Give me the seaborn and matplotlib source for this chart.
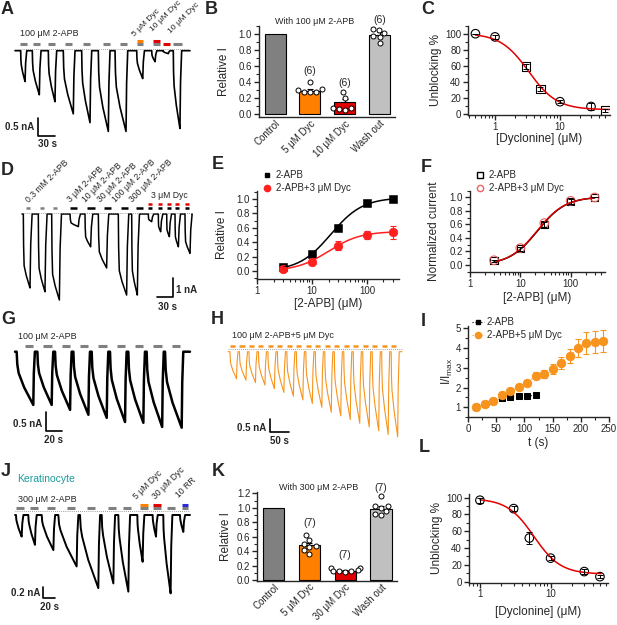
import numpy as np
import pandas as pd
import matplotlib
matplotlib.use("Agg")
from matplotlib import pyplot as plt
from matplotlib import ticker
from matplotlib.lines import Line2D
import seaborn as sns

sns.set_style("ticks")
plt.rcParams["font.family"] = ["Liberation Sans", "DejaVu Sans"]
plt.rcParams["mathtext.default"] = "regular"
plt.rcParams["axes.linewidth"] = 1.0

W, H = 617, 625
GRAY, LGRAY = "#808080", "#c0c0c0"
ORANGE, BORANGE, RED, BLUE, TEAL = "#f7941d", "#ff8000", "#e30000", "#2b2bd6", "#1a9a9a"

# ---------------- data ----------------
# A: 100 uM 2-APB trace (s, nA)
a_onsets = [18.5, 38.6, 66.3, 92.2, 124.0, 152.8, 181.7, 219.2, 245.2, 265.2, 282.5]
a_durs = [7.5, 12.1, 11.5, 17.3, 14.4, 17.3, 19.0, 10.4, 5.8, 8.7, 11.5]
a_amps = [0.84, 1.2, 1.39, 1.72, 1.96, 2.2, 2.2, 0.76, 0.3, 0.08, 2.12]
a_bar_starts = [17.3, 40.3, 66.3, 95.2, 126.8, 161.4, 190.3, 219.2, 248.0, 265.2, 282.5]
a_bar_lens = [11.5, 11.5, 11.5, 11.5, 11.5, 11.5, 11.5, 11.5, 11.5, 11.5, 14.4]

# B: with 100 uM 2-APB
b_cats = ["Control", "5 μM Dyc", "10 μM Dyc", "Wash out"]
b_means = [1.0, 0.29, 0.15, 0.99]
b_sem = [0.0, 0.02, 0.04, 0.03]
b_dots_5 = [0.40, 0.31, 0.28, 0.27, 0.30, 0.27]
b_dots_10 = [0.27, 0.20, 0.08, 0.06, 0.07, 0.05]
b_dots_wash = [1.06, 1.05, 1.01, 0.97, 0.96, 0.88]

# C: dose response of dyclonine
c_conc = [0.5, 1, 3, 5, 10, 30, 50]
c_unblock = [100, 96, 59, 31, 15, 9, 4]
c_err = [0, 3, 3, 2, 2, 4, 2]
c_marker = ["o", "o", "s", "s", "o", "o", "s"]
c_fit = dict(bottom=5, top=100.5, k=3.3, n=2.0)

# D: 2-APB concentrations trace
d_onsets = [25.0, 53.1, 78.2, 112.6, 140.7, 165.7, 203.2, 228.3, 259.5, 278.3, 294.0, 309.6, 328.3]
d_durs = [12.5, 12.5, 14.4, 15.6, 10.6, 15.6, 15.6, 10.6, 6.3, 4.4, 5.0, 6.3, 9.4]
d_amps = [4.04, 4.25, 4.7, 0.69, 1.79, 2.95, 4.43, 4.43, 0.42, 0.97, 1.24, 1.79, 2.15]
d_gray_starts = [30.0, 56.3, 81.3]
d_black_starts = [112.6, 145.0, 176.4, 207.7, 236.4]
d_dyc_starts = [259.5, 278.3, 294.0, 309.6, 328.3]
d_labels = ["0.3 mM 2-APB", "3 μM 2-APB", "10 μM 2-APB", "30 μM 2-APB", "100 μM 2-APB", "300 μM 2-APB"]

# E / F: 2-APB dose response
e_conc = [3, 10, 30, 100, 300]
e_apb = [0.06, 0.24, 0.60, 0.95, 1.0]
e_dyc = [0.03, 0.13, 0.35, 0.50, 0.54]
e_dyc_err = [0.02, 0.02, 0.06, 0.06, 0.09]
f_apb = [0.06, 0.24, 0.60, 0.94, 1.0]
f_dyc = [0.07, 0.25, 0.62, 0.95, 1.0]
f_err = [0.02, 0.03, 0.04, 0.03, 0.0]

# G: repeated 2-APB trace
g_onsets = [8.3, 34.2, 56.3, 79.2, 102.1, 125.0, 147.9, 170.8, 193.8]
g_durs = [20.8, 17.9, 18.8, 18.8, 18.8, 18.8, 18.8, 19.4, 20.8]
g_amps = [1.4, 1.4, 1.53, 1.66, 1.74, 1.85, 1.87, 1.98, 2.0]
g_bar_starts = [18.8, 41.7, 64.6, 87.5, 110.4, 133.3, 156.2, 179.1, 202.0]

# H: 2-APB + 5 uM Dyc trace
h_onsets = [12.9, 37.4, 61.9, 86.4, 110.9, 135.4, 159.9, 184.4, 208.9,
            233.4, 257.9, 282.4, 306.9, 331.4, 355.9, 380.4, 404.9, 429.4]
h_amps = [1.1, 1.15, 1.25, 1.35, 1.5, 1.65, 1.8, 1.95, 2.1,
          2.25, 2.45, 2.6, 2.75, 2.9, 3.05, 3.2, 3.35, 3.45]

# I: sensitisation
i_t_apb = [15, 30, 45, 60, 75, 90, 105, 120]
i_apb = [1.0, 1.15, 1.3, 1.45, 1.53, 1.55, 1.58, 1.6]
i_t_dyc = [15, 30, 45, 60, 75, 90, 105, 120, 135, 150, 165, 180, 195, 210, 225, 240]
i_dyc = [1.0, 1.17, 1.33, 1.62, 1.85, 2.03, 2.23, 2.6, 2.7, 2.95, 3.25, 3.6, 4.0, 4.25, 4.3, 4.35]
i_dyc_err = [0.02, 0.04, 0.05, 0.07, 0.1, 0.12, 0.14, 0.18, 0.2, 0.25, 0.3, 0.35, 0.45, 0.55, 0.55, 0.55]

# J: keratinocyte trace
j_onsets = [10.3, 31.4, 54.4, 82.9, 120.1, 157.3, 185.8, 218.4, 244.7, 262.9, 291.6]
j_durs = [9.7, 11.4, 20.0, 31.4, 31.4, 20.0, 17.2, 9.1, 5.7, 12.6, 5.7]
j_amps = [0.37, 0.51, 0.6, 0.88, 1.25, 1.17, 1.31, 0.8, 0.37, 1.34, 0.29]
j_bar_starts = [10.3, 34.3, 62.9, 97.2, 131.5, 168.6, 194.3, 223.0, 245.8, 268.8, 294.5]

# K: with 300 uM 2-APB
k_cats = ["Control", "5 μM Dyc", "30 μM Dyc", "Wash out"]
k_means = [1.0, 0.48, 0.13, 0.99]
k_sem = [0.0, 0.03, 0.01, 0.03]
k_dots_5 = [0.62, 0.55, 0.50, 0.47, 0.46, 0.41, 0.36]
k_dots_30 = [0.17, 0.16, 0.14, 0.13, 0.12, 0.12, 0.11]
k_dots_wash = [1.17, 1.03, 1.02, 1.00, 0.95, 0.91, 0.90]

# L: keratinocyte dose response
l_conc = [1, 3, 5, 10, 30, 50]
l_unblock = [97, 87, 52, 28, 12, 6]
l_err = [3, 3, 7, 2, 3, 2]
l_fit = dict(bottom=9, top=99, k=5.8, n=2.3)

# ---------------- helpers ----------------
fig = plt.figure(figsize=(W / 100, H / 100), dpi=100)


def px_axes(box):
    x0, y0, x1, y1 = box
    return fig.add_axes([x0 / W, 1 - y1 / H, (x1 - x0) / W, (y1 - y0) / H])


def ftext(x, y, s, **kw):
    kw.setdefault("fontsize", 6.5)
    fig.text(x / W, 1 - y / H, s, **kw)


def hill_down(x, bottom, top, k, n):
    return bottom + (top - bottom) / (1 + (x / k) ** n)


def hill_up(x, top, k, n):
    return top / (1 + (k / x) ** n)


# pulse outline: fraction of duration / fraction of amplitude
SHAPE_T = [0.0, 0.04, 0.12, 0.45, 0.8, 1.0]
SHAPE_I = [0.0, 0.6, 1.0, 1.45, 1.8, 2.0]


def build_trace(onsets, durs, amps, t0, t1, f=0.45, rec=3.0):
    t, i = [t0], [0.0]
    for o, d, a in zip(onsets, durs, amps):
        for st, si in zip(SHAPE_T, SHAPE_I):
            t.append(o + st * d)
            frac = si * f if si <= 1 else f + (1 - f) * (si - 1)
            i.append(-a * frac)
        t += [o + d + 0.35 * rec, o + d + rec]
        i += [-0.4 * a, 0.0]
    t.append(t1)
    i.append(0.0)
    return t, i


def trace_panel(box, base, pps, ppn):
    ax = px_axes(box)
    x0, y0, x1, y1 = box
    ax.set_xlim(0, (x1 - x0) / pps)
    ax.set_ylim((base - y1) / ppn, (base - y0) / ppn)
    ax.axis("off")
    return ax, (lambda x: (x - x0) / pps), (lambda y: (base - y) / ppn)


def bars(ax, starts, lens, level, color, lw=2.2):
    for s, l in zip(starts, lens):
        ax.plot([s, s + l], [level, level], color=color, lw=lw, solid_capstyle="butt")


def dotted(ax, ta, tb, level):
    ax.plot([ta, tb], [level, level], color="gray", lw=0.6, ls=(0, (1, 1.5)))


def style(ax, box, ylab=None, ylab_x=None, xlab=None, xlab_y=None):
    sns.despine(ax=ax)
    ax.tick_params(which="major", direction="out", length=3.5, width=1, labelsize=7, pad=1.5)
    ax.tick_params(which="minor", direction="out", length=2, width=0.8)
    x0, y0, x1, y1 = box
    if ylab:
        ax.set_ylabel(ylab, fontsize=8.5)
        ax.yaxis.set_label_coords((ylab_x + 5 - x0) / (x1 - x0), 0.5)
    if xlab:
        ax.set_xlabel(xlab, fontsize=8.5)
        ax.xaxis.set_label_coords(0.5, (y1 - xlab_y + 5) / (y1 - y0))


def scale_bar(ax, tt, ti, x, y, T, I, right=False):
    t, i = tt(x), ti(y)
    if right:
        ax.plot([t - T, t, t], [i, i, i + I], color="black", lw=1.2)
    else:
        ax.plot([t, t, t + T], [i + I, i, i], color="black", lw=1.2)


def bar_panel(ax, cats, means, sem, dots, colors, ylim, yticks):
    sns.barplot(x=cats, y=means, hue=cats, palette=dict(zip(cats, colors)), saturation=1,
                edgecolor="black", linewidth=0.8, width=0.6, legend=False, ax=ax)
    ax.errorbar(range(1, 4), means[1:], yerr=[np.zeros(3), sem[1:]], fmt="none",
                ecolor="black", elinewidth=0.8, capsize=2.5, capthick=0.8)
    df = pd.DataFrame({"g": sum([[c] * len(d) for c, d in zip(cats[1:], dots)], []),
                       "v": sum(dots, [])})
    sns.swarmplot(data=df, x="g", y="v", order=cats, color="white", edgecolor="black",
                  linewidth=0.7, size=3.6, ax=ax)
    ax.set_xlim(-0.46, 3.44)
    ax.set_ylim(*ylim)
    ax.set_yticks(yticks)
    ax.yaxis.set_major_formatter(ticker.FormatStrFormatter("%.1f"))
    ax.yaxis.set_minor_locator(ticker.MultipleLocator(0.1))
    ax.set_xticks(range(4))
    ax.set_xticklabels(cats, rotation=45, ha="right", rotation_mode="anchor", fontsize=6.5)
    ax.set_xlabel("")


def log_fmt(ax):
    ax.xaxis.set_major_formatter(ticker.FuncFormatter(lambda v, p: f"{v:g}"))
    ax.xaxis.set_minor_locator(ticker.LogLocator(subs=np.arange(2, 10)))
    ax.xaxis.set_minor_formatter(ticker.NullFormatter())


# ---------------- A ----------------
ax, tt, ti = trace_panel((10, 20, 195, 140), 50.7, 0.578, 36.7)
t, i = build_trace(a_onsets, a_durs, a_amps, tt(15), tt(190))
ax.plot(t, i, color="black", lw=1.2)
dotted(ax, tt(15), tt(190), ti(49))
a_cols = [GRAY] * 9 + [RED, GRAY]
for s, l, c in zip(a_bar_starts, a_bar_lens, a_cols):
    bars(ax, [s], [l], ti(44.3), c)
bars(ax, [a_bar_starts[7]], [a_bar_lens[7]], ti(41.3), BORANGE)
bars(ax, [a_bar_starts[8]], [a_bar_lens[8]], ti(41.3), RED)
scale_bar(ax, tt, ti, 37.7, 136, 30, 0.5)
ftext(20, 34, "100 μM 2-APB", va="center")
for x, y, s in [(136, 38, "5 μM Dyc"), (154, 33, "10 μM Dyc"), (172, 35, "10 μM Dyc")]:
    ftext(x, y, s, rotation=45, rotation_mode="anchor", ha="left", va="bottom", fontsize=6)
ftext(34, 127, "0.5 nA", ha="right", va="center", fontsize=7, weight="bold")
ftext(47, 144, "30 s", ha="center", va="center", fontsize=7, weight="bold")

# ---------------- B ----------------
b_box = (259, 25.7, 395, 117.2)
ax = px_axes(b_box)
bar_panel(ax, b_cats, b_means, b_sem, [b_dots_5, b_dots_10, b_dots_wash],
          [GRAY, BORANGE, RED, LGRAY], (-0.04, 1.1), np.arange(0, 1.01, 0.2))
style(ax, b_box, "Relative I", 225)
ax.tick_params(axis="x", length=0, pad=1)
for x, y in [(1, 0.53), (2, 0.38), (3, 1.17)]:
    ax.text(x, y, "(6)", ha="center", va="center", fontsize=7.5, clip_on=False)
ftext(315, 21.7, "With 100 μM 2-APB", ha="center", va="center")

# ---------------- C ----------------
c_box = (468, 25.7, 610, 115.3)
ax = px_axes(c_box)
xs = np.logspace(np.log10(0.5), np.log10(58), 200)
sns.lineplot(x=xs, y=hill_down(xs, **c_fit), color=RED, lw=1.1, ax=ax)
ax.errorbar(c_conc, c_unblock, yerr=c_err, fmt="none", ecolor="black", elinewidth=0.7, capsize=2.5, capthick=0.7)
for m in ["o", "s"]:
    sel = [j for j, mm in enumerate(c_marker) if mm == m]
    sns.scatterplot(x=[c_conc[j] for j in sel], y=[c_unblock[j] for j in sel], marker=m, s=38,
                    facecolor="none", edgecolor="black", linewidth=0.8, ax=ax)
ax.set_xscale("log")
ax.set_xlim(0.384, 58.8)
ax.set_ylim(-2, 110)
ax.set_xticks([1, 10])
log_fmt(ax)
ax.set_yticks(range(0, 101, 20))
ax.yaxis.set_minor_locator(ticker.MultipleLocator(10))
style(ax, c_box, "Unblocking %", 436.7, "[Dyclonine] (μM)", 138.3)

# ---------------- D ----------------
ax, tt, ti = trace_panel((10, 200, 200, 310), 214, 0.533, 18.3)
t, i = build_trace(d_onsets, d_durs, d_amps, tt(22), tt(192), f=0.7, rec=4.0)
ax.plot(t, i, color="black", lw=1.1)
dotted(ax, tt(22), tt(192), ti(212.5))
bars(ax, d_gray_starts, [7.5] * 3, ti(208.3), GRAY, lw=1.8)
bars(ax, d_black_starts, [13.8] * 5, ti(208.3), "black", lw=1.8)
bars(ax, d_dyc_starts, [7.5] * 5, ti(208.3), "black", lw=1.8)
bars(ax, d_dyc_starts, [7.5] * 5, ti(204.3), RED, lw=1.8)
scale_bar(ax, tt, ti, 172.7, 296.7, 30, 1.0, right=True)
for x, s in zip([30, 72, 87, 102, 117, 134], d_labels):
    ftext(x, 204, s, rotation=45, rotation_mode="anchor", ha="left", va="bottom", fontsize=6.2)
ftext(151, 195, "3 μM Dyc", va="center", fontsize=6.2)
ftext(176, 290, "1 nA", ha="left", va="center", fontsize=7, weight="bold")
ftext(167, 307, "30 s", ha="center", va="center", fontsize=7, weight="bold")

# ---------------- E ----------------
e_box = (257, 191, 399, 279)
ax = px_axes(e_box)
xs = np.logspace(np.log10(3), np.log10(300), 200)
sns.lineplot(x=xs, y=hill_up(xs, 1.02, 22, 1.5), color="black", lw=1.1, ax=ax)
sns.lineplot(x=xs, y=hill_up(xs, 0.55, 20, 1.5), color="#ff2020", lw=1.1, ax=ax)
ax.errorbar(e_conc, e_dyc, yerr=e_dyc_err, fmt="none", ecolor="#ff2020", elinewidth=0.8, capsize=2.5, capthick=0.8)
sns.scatterplot(x=e_conc, y=e_apb, marker="s", s=26, color="black", edgecolor="black", ax=ax)
sns.scatterplot(x=e_conc, y=e_dyc, marker="o", s=38, color="#ff2020", edgecolor="#ff2020", ax=ax)
ax.set_xscale("log")
ax.set_xlim(1, 383)
ax.set_ylim(-0.11, 1.11)
ax.set_xticks([1, 10, 100])
log_fmt(ax)
ax.set_yticks(np.arange(0, 1.01, 0.2))
ax.yaxis.set_major_formatter(ticker.FormatStrFormatter("%.1f"))
ax.yaxis.set_minor_locator(ticker.MultipleLocator(0.1))
style(ax, e_box, "Relative I", 223, "[2-APB] (μM)", 303.3)
ax.legend(handles=[Line2D([], [], marker="s", color="black", ls="none", ms=3.5, label="2-APB"),
                   Line2D([], [], marker="o", color="#ff2020", ls="none", ms=4.5, label="2-APB+3 μM Dyc")],
          loc="upper left", bbox_to_anchor=((262 - 257) / 142, (279 - 170) / 88), frameon=False,
          fontsize=7, handlelength=1, handletextpad=0.4, labelspacing=0.3, borderaxespad=0, borderpad=0)

# ---------------- F ----------------
f_box = (470, 190.7, 605, 271.7)
ax = px_axes(f_box)
sns.lineplot(x=xs, y=hill_up(xs, 1.01, 22, 1.55), color="black", lw=1.1, ax=ax)
sns.lineplot(x=xs, y=hill_up(xs, 1.01, 21.5, 1.55), color="#e00000", lw=1.0, ax=ax)
ax.errorbar(e_conc, f_apb, yerr=f_err, fmt="none", ecolor="black", elinewidth=0.7, capsize=2, capthick=0.7)
sns.scatterplot(x=e_conc, y=f_apb, marker="s", s=26, facecolor="none", edgecolor="black", linewidth=0.8, ax=ax)
sns.scatterplot(x=e_conc, y=f_dyc, marker="o", s=38, facecolor="none", edgecolor="#f06060", linewidth=0.8, ax=ax)
ax.set_xscale("log")
ax.set_xlim(1, 482)
ax.set_ylim(-0.1, 1.1)
ax.set_xticks([1, 10, 100])
log_fmt(ax)
ax.set_yticks(np.arange(0, 1.01, 0.2))
ax.yaxis.set_major_formatter(ticker.FormatStrFormatter("%.1f"))
ax.yaxis.set_minor_locator(ticker.MultipleLocator(0.1))
style(ax, f_box, "Normalized current", 435, "[2-APB] (μM)", 297)
ax.legend(handles=[Line2D([], [], marker="s", mfc="none", mec="black", ls="none", ms=4, label="2-APB"),
                   Line2D([], [], marker="o", mfc="none", mec="#f06060", ls="none", ms=4.5, label="2-APB+3 μM Dyc")],
          loc="upper left", bbox_to_anchor=((475 - 470) / 135, (271.7 - 170) / 81), frameon=False,
          fontsize=7, handlelength=1, handletextpad=0.4, labelspacing=0.3, borderaxespad=0, borderpad=0)

# ---------------- G ----------------
ax, tt, ti = trace_panel((10, 340, 195, 445), 351.7, 0.8, 38)
t, i = build_trace(g_onsets, g_durs, g_amps, tt(15), tt(190), f=0.4, rec=2.0)
ax.plot(t, i, color="black", lw=1.8)
bars(ax, g_bar_starts, [10.4] * 9, ti(345.7), GRAY)
scale_bar(ax, tt, ti, 45.7, 430.7, 20, 0.5)
ftext(18, 336.7, "100 μM 2-APB", va="center")
ftext(42, 424, "0.5 nA", ha="right", va="center", fontsize=7, weight="bold")
ftext(53, 440, "20 s", ha="center", va="center", fontsize=7, weight="bold")

# ---------------- H ----------------
ax, tt, ti = trace_panel((225, 340, 405, 445), 351.7, 0.387, 24.7)
t, i = build_trace(h_onsets, [16.8] * 18, h_amps, tt(228), tt(402), f=0.45, rec=4.0)
ax.plot(t, i, color=ORANGE, lw=0.8)
dotted(ax, tt(228), tt(402), ti(349.3))
bars(ax, h_onsets, [13] * 18, ti(345.7), ORANGE, lw=1.8)
scale_bar(ax, tt, ti, 270, 431.7, 50, 0.5)
ftext(232, 335.7, "100 μM 2-APB+5 μM Dyc", va="center")
ftext(266, 428, "0.5 nA", ha="right", va="center", fontsize=7, weight="bold")
ftext(279, 441, "50 s", ha="center", va="center", fontsize=7, weight="bold")

# ---------------- I ----------------
i_box = (468, 326.3, 609, 417.2)
ax = px_axes(i_box)
ax.errorbar(i_t_dyc, i_dyc, yerr=i_dyc_err, fmt="none", ecolor=ORANGE, elinewidth=0.8, capsize=2, capthick=0.8)
sns.lineplot(x=i_t_apb, y=i_apb, color="black", ls=":", lw=0.8, marker="s", markersize=5,
             markeredgecolor="black", ax=ax)
sns.lineplot(x=i_t_dyc, y=i_dyc, color=ORANGE, ls=":", lw=0.8, marker="o", markersize=6,
             markeredgecolor=ORANGE, ax=ax)
ax.set_xlim(0, 250)
ax.set_ylim(0.5, 5.1)
ax.set_xticks(range(0, 251, 50))
ax.xaxis.set_minor_locator(ticker.MultipleLocator(25))
ax.set_yticks(range(1, 6))
ax.yaxis.set_minor_locator(ticker.MultipleLocator(0.5))
style(ax, i_box, "I/I$_{max}$", 450, "t (s)", 441.7)
ax.legend(handles=[Line2D([], [], marker="s", color="black", ls=":", lw=0.8, ms=3.5, label="2-APB"),
                   Line2D([], [], marker="o", color=ORANGE, ls=":", lw=0.8, ms=4.5, label="2-APB+5 μM Dyc")],
          loc="upper left", bbox_to_anchor=((472 - 468) / 141, (417.2 - 317) / 90.9), frameon=False,
          fontsize=7, handlelength=1.2, handletextpad=0.3, labelspacing=0.3, borderaxespad=0, borderpad=0)

# ---------------- J ----------------
ax, tt, ti = trace_panel((10, 495, 195, 612), 515, 0.583, 58.5)
t, i = build_trace(j_onsets, j_durs, j_amps, tt(15), tt(190), f=0.3, rec=3.0)
ax.plot(t, i, color="black", lw=1.4)
dotted(ax, tt(15), tt(190), ti(510.7))
bars(ax, j_bar_starts, [14] * 10 + [10], ti(508.3), GRAY)
bars(ax, [j_bar_starts[7]], [14], ti(504.8), BORANGE)
bars(ax, [j_bar_starts[8]], [14], ti(504.8), RED)
bars(ax, [j_bar_starts[10]], [10], ti(504.8), BLUE)
scale_bar(ax, tt, ti, 43.3, 598.3, 20, 0.2)
ftext(17, 479, "Keratinocyte", va="center", color=TEAL, fontsize=7.5)
ftext(18, 499, "300 μM 2-APB", va="center")
for x, y, s in [(138, 501, "5 μM Dyc"), (156.7, 501, "30 μM Dyc"), (180, 499, "10 RR")]:
    ftext(x, y, s, rotation=45, rotation_mode="anchor", ha="left", va="bottom", fontsize=6.2)
ftext(40, 593, "0.2 nA", ha="right", va="center", fontsize=7, weight="bold")
ftext(49, 606.7, "20 s", ha="center", va="center", fontsize=7, weight="bold")

# ---------------- K ----------------
k_box = (257.3, 491.9, 396.7, 581.4)
ax = px_axes(k_box)
bar_panel(ax, k_cats, k_means, k_sem, [k_dots_5, k_dots_30, k_dots_wash],
          [GRAY, BORANGE, RED, LGRAY], (-0.02, 1.22), np.arange(0, 1.21, 0.2))
style(ax, k_box, "Relative I", 226.7)
ax.tick_params(axis="x", length=0, pad=0.5)
for x, y in [(1, 0.79), (2, 0.34), (3, 1.28)]:
    ax.text(x, y, "(7)", ha="center", va="center", fontsize=7.5, clip_on=False)
ftext(319, 487, "With 300 μM 2-APB", ha="center", va="center")

# ---------------- L ----------------
l_box = (469, 494, 608, 582.5)
ax = px_axes(l_box)
xs = np.logspace(0, np.log10(52), 200)
sns.lineplot(x=xs, y=hill_down(xs, **l_fit), color=RED, lw=1.1, ax=ax)
ax.errorbar(l_conc, l_unblock, yerr=l_err, fmt="none", ecolor="black", elinewidth=0.7, capsize=2.5, capthick=0.7)
sns.scatterplot(x=l_conc, y=l_unblock, marker="o", s=38, facecolor="none", edgecolor="black", linewidth=0.8, ax=ax)
ax.set_xscale("log")
ax.set_xlim(0.7, 65)
ax.set_ylim(-1, 104.4)
ax.set_xticks([1, 10])
log_fmt(ax)
ax.set_yticks(range(0, 101, 20))
ax.yaxis.set_minor_locator(ticker.MultipleLocator(10))
style(ax, l_box, "Unblocking %", 438, "[Dyclonine] (μM)", 610.7)

# ---------------- panel letters ----------------
for s, x, y in [("A", 1, 1), ("B", 205, 1), ("C", 421, 1), ("D", 1, 162), ("E", 212, 156),
                ("F", 421, 159), ("G", 1, 311), ("H", 211, 311), ("I", 421, 313),
                ("J", 1, 463), ("K", 212, 463), ("L", 419, 439)]:
    ftext(x, y, s, fontsize=13, weight="bold", va="top", ha="left")

fig.savefig("out.png", dpi=100)
